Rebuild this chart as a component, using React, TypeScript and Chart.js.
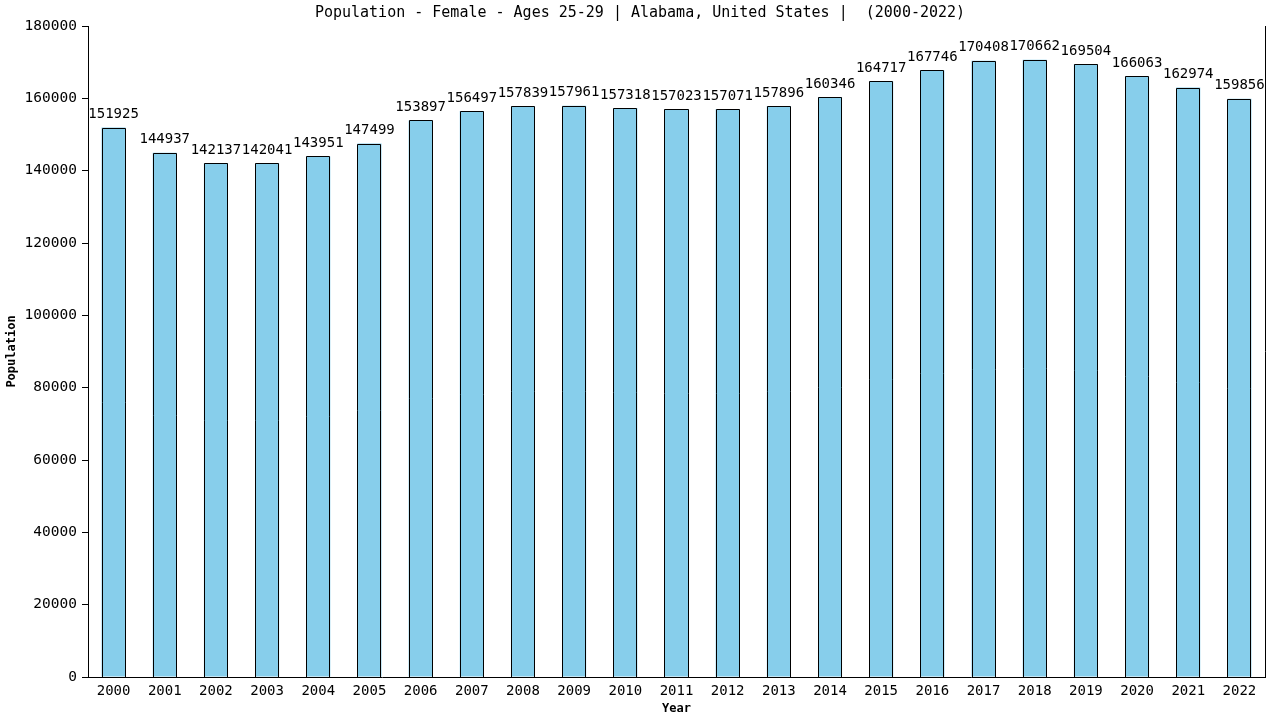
import React, { useEffect, useRef } from 'react';
import { Chart, registerables } from 'chart.js';

Chart.register(...registerables);

const years = [
  '2000', '2001', '2002', '2003', '2004', '2005', '2006', '2007', '2008', '2009', '2010', '2011',
  '2012', '2013', '2014', '2015', '2016', '2017', '2018', '2019', '2020', '2021', '2022',
];
const population = [
  151925, 144937, 142137, 142041, 143951, 147499, 153897, 156497, 157839, 157961, 157318, 157023,
  157071, 157896, 160346, 164717, 167746, 170408, 170662, 169504, 166063, 162974, 159856,
];
const titleText = 'Population - Female - Ages 25-29 | Alabama, United States |  (2000-2022)';
const yTitle = 'Population';
const xTitle = 'Year';

const FONT = '"DejaVu Sans Mono", monospace';

// crisp black outline for bars (chart.js outlines come out blurry at odd offsets)
const outlinePlugin = {
  id: 'outlinePlugin',
  afterDatasetsDraw(chart: Chart) {
    const ctx = chart.ctx;
    const meta = chart.getDatasetMeta(0);
    ctx.save();
    ctx.strokeStyle = '#000';
    ctx.lineWidth = 1;
    meta.data.forEach((bar: any) => {
      const left = Math.round(bar.x - bar.width / 2) + 0.5;
      const right = Math.round(bar.x + bar.width / 2) - 0.5;
      const top = Math.round(bar.y) + 0.5;
      const bottom = Math.round(bar.base);
      ctx.beginPath();
      ctx.moveTo(left, bottom);
      ctx.lineTo(left, top);
      ctx.lineTo(right, top);
      ctx.lineTo(right, bottom);
      ctx.stroke();
    });
    ctx.restore();
  },
};

// draws title, axis titles, right frame line and the value labels
const textPlugin = {
  id: 'textPlugin',
  afterDraw(chart: Chart) {
    const ctx = chart.ctx;
    const area = chart.chartArea;
    ctx.save();
    ctx.fillStyle = '#000';
    ctx.font = `15px ${FONT}`;
    ctx.textAlign = 'center';
    ctx.textBaseline = 'middle';
    ctx.fillText(titleText, 640, 13);

    ctx.font = `bold 12px ${FONT}`;
    ctx.fillText(xTitle, (area.left + area.right) / 2, 709);
    ctx.save();
    ctx.translate(12, (area.top + area.bottom) / 2);
    ctx.rotate(-Math.PI / 2);
    ctx.fillText(yTitle, 0, 0);
    ctx.restore();

    ctx.strokeStyle = '#000';
    ctx.lineWidth = 1;
    ctx.beginPath();
    ctx.moveTo(Math.round(area.right) + 0.5, area.top);
    ctx.lineTo(Math.round(area.right) + 0.5, area.bottom);
    ctx.stroke();

    ctx.font = `14px ${FONT}`;
    ctx.textBaseline = 'bottom';
    const meta = chart.getDatasetMeta(0);
    meta.data.forEach((bar: any, i: number) => {
      ctx.fillText(String(population[i]), bar.x, bar.y - 6);
    });
    ctx.restore();
  },
};

const PopulationChart: React.FC = () => {
  const canvasRef = useRef<HTMLCanvasElement>(null);
  const chartInstance = useRef<Chart | null>(null);

  useEffect(() => {
    if (!canvasRef.current) return;
    document.body.style.margin = '0';
    if (chartInstance.current) chartInstance.current.destroy();

    chartInstance.current = new Chart(canvasRef.current, {
      type: 'bar',
      data: {
        labels: years,
        datasets: [
          {
            data: population,
            backgroundColor: '#87CEEB',
            borderWidth: 0,
            barPercentage: 0.47,
            categoryPercentage: 1,
          },
        ],
      },
      options: {
        responsive: false,
        animation: false,
        layout: { padding: { top: 26, right: 15, left: 0, bottom: 0 } },
        plugins: {
          legend: { display: false },
          title: { display: false },
          tooltip: { enabled: false },
        },
        scales: {
          x: {
            grid: { display: false },
            border: { display: true, color: '#000' },
            ticks: {
              color: '#000',
              font: { family: FONT, size: 14 },
              padding: -2,
              maxRotation: 0,
              autoSkip: false,
            },
            afterFit: (scale: any) => {
              scale.height = 43;
            },
          },
          y: {
            min: 0,
            max: 180000,
            grid: { drawOnChartArea: false, drawTicks: true, tickLength: 6, color: '#000' },
            border: { display: true, color: '#000' },
            ticks: {
              stepSize: 20000,
              color: '#000',
              font: { family: FONT, size: 14.5 },
              padding: 5,
              callback: (value: any) => String(value),
            },
            afterFit: (scale: any) => {
              scale.width = 88;
            },
          },
        },
      },
      plugins: [outlinePlugin, textPlugin],
    });

    return () => {
      if (chartInstance.current) {
        chartInstance.current.destroy();
        chartInstance.current = null;
      }
    };
  }, []);

  return (
    <div style={{ width: 1280, height: 720, background: '#fff' }}>
      <canvas ref={canvasRef} width={1280} height={720}></canvas>
    </div>
  );
};

export default function App() {
  return <PopulationChart />;
}
